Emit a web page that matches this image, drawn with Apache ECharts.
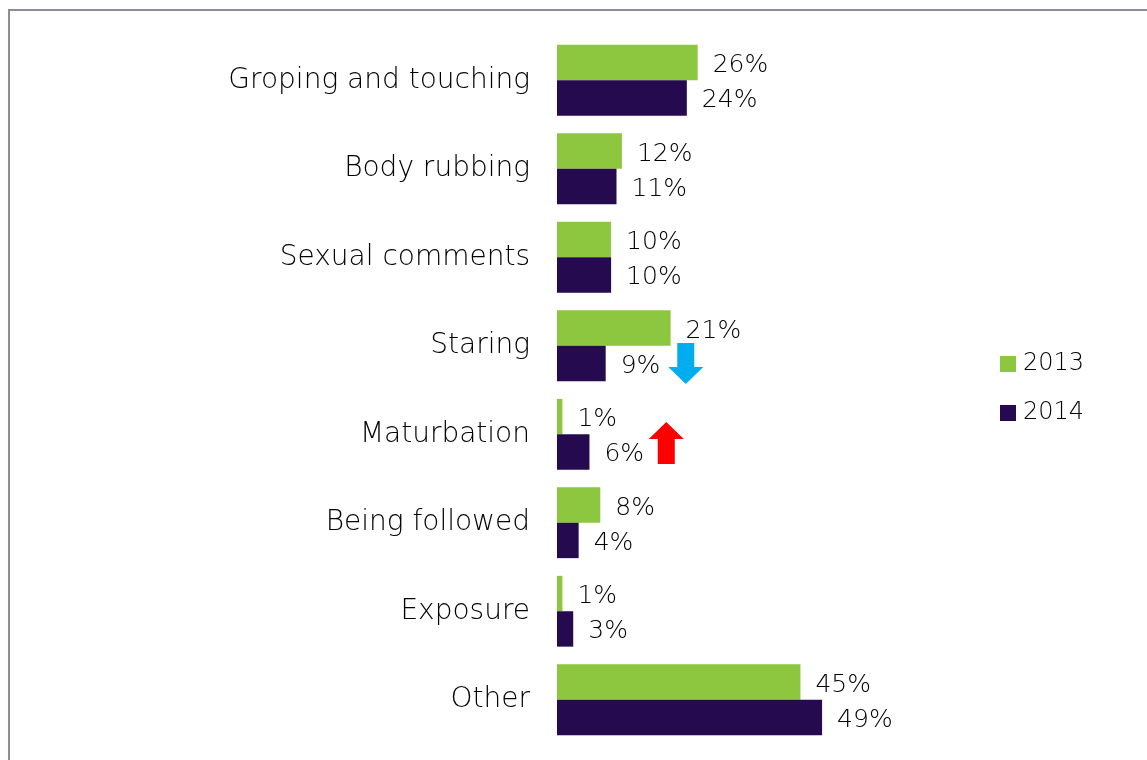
<!DOCTYPE html>
<html>
<head>
<meta charset="utf-8">
<script src="https://cdn.jsdelivr.net/npm/echarts@6/dist/echarts.min.js"></script>
<style>
html,body{margin:0;padding:0;background:#fff;}
#frame{position:absolute;left:8px;top:9px;width:1160px;height:780px;border-left:2px solid #8c8c9c;border-top:2px solid #8c8c9c;}
#chart{position:absolute;left:0;top:0;width:1147px;height:760px;}
</style>
</head>
<body>
<div id="frame"></div>
<div id="chart"></div>
<script>
const categories = ["Groping and touching","Body rubbing","Sexual comments","Staring","Maturbation","Being followed","Exposure","Other"];
const values2013 = [26, 12, 10, 21, 1, 8, 1, 45];
const values2014 = [24, 11, 10, 9, 6, 4, 3, 49];
const seriesNames = ["2013", "2014"];
const downArrowAt = [23.8, "Staring"];
const upArrowAt = [20.2, "Maturbation"];

const font = "'DejaVu Sans', sans-serif";
const weight = 200;
const chart = echarts.init(document.getElementById('chart'), null, {renderer:'canvas'});
const labelStyle = {show:true, position:'right', distance:15, offset:[0,3], formatter:'{c}%', color:'#000', fontSize:25, fontFamily:font, fontWeight:weight};
chart.setOption({
  animation:false,
  backgroundColor:'transparent',
  grid:{left:557, right:49, top:36, bottom:16, containLabel:false},
  legend:{
    orient:'vertical', left:995, top:347, itemGap:25,
    itemWidth:16, itemHeight:16, icon:'rect',
    textStyle:{fontSize:24, color:'#000', fontFamily:font, fontWeight:weight, padding:[0,0,0,2]},
    data:seriesNames
  },
  xAxis:{type:'value', min:0, max:100, show:false},
  yAxis:{type:'category', inverse:true, data:categories,
    axisLine:{show:false}, axisTick:{show:false},
    axisLabel:{fontSize:28, color:'#000', fontFamily:font, fontWeight:weight, margin:27, padding:[5,0,0,0]}
  },
  series:[
    {name:seriesNames[0], type:'bar', data:values2013, barGap:'0%', barCategoryGap:'20%',
     itemStyle:{color:'#8dc63f'}, label:labelStyle},
    {name:seriesNames[1], type:'bar', data:values2014,
     itemStyle:{color:'#250a50'}, label:labelStyle,
     markPoint:{
       silent:true,
       label:{show:false},
       data:[
         {coord:downArrowAt, symbol:'path://M9,0 L26,0 L26,24 L35,24 L17.5,41 L0,24 L9,24 Z', symbolSize:[35,41], symbolOffset:[0,0], itemStyle:{color:'#00aeef'}},
         {coord:upArrowAt, symbol:'path://M17.5,0 L35,17 L26,17 L26,42 L9,42 L9,17 L0,17 Z', symbolSize:[35,42], symbolOffset:[0,-9], itemStyle:{color:'#ff0000'}}
       ]
     }
    }
  ]
});
</script>
</body>
</html>
